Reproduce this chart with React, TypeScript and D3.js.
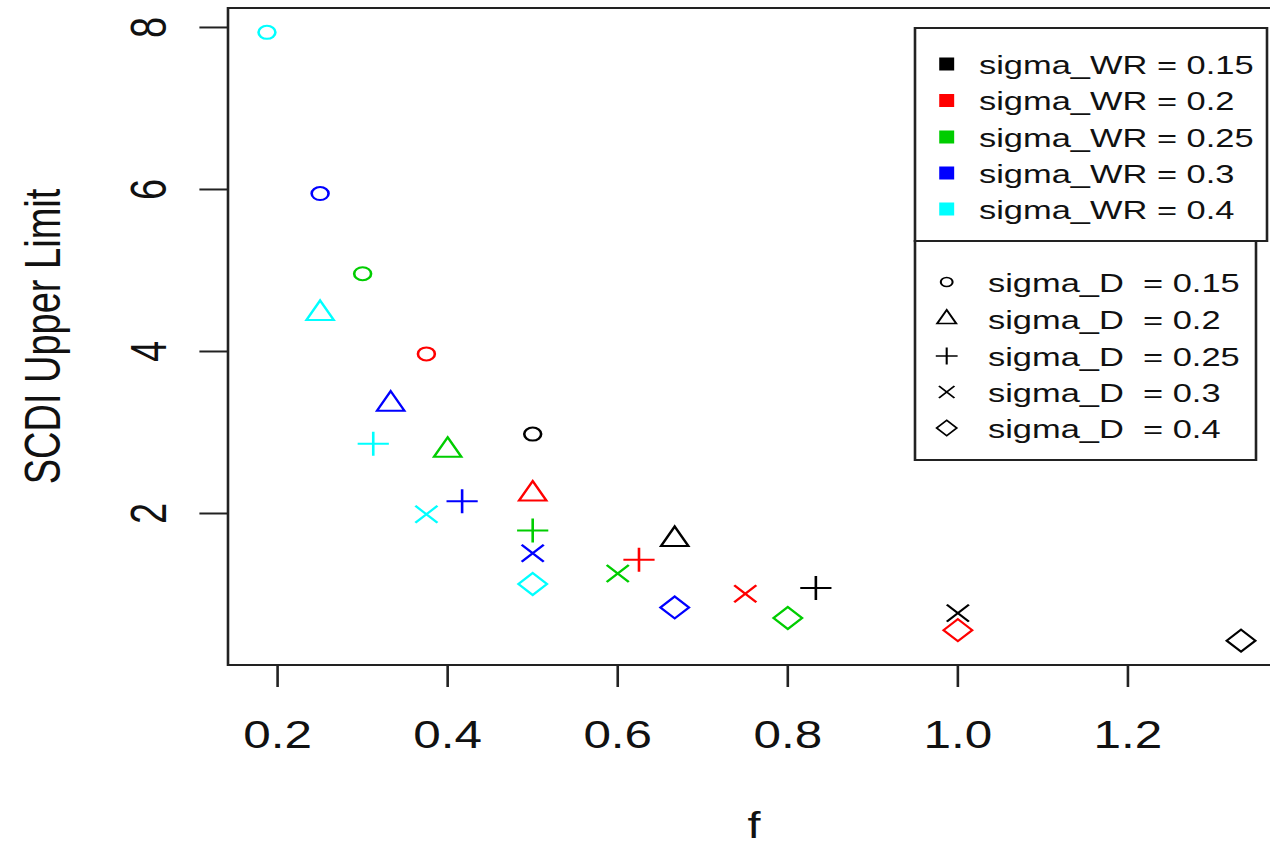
import React from "react";
import * as d3 from "d3";

// ---- data ----
const sigmaWR = [0.15, 0.2, 0.25, 0.3, 0.4];
const sigmaD = [0.15, 0.2, 0.25, 0.3, 0.4];
const seriesColors = ["#000000", "#FF0000", "#00CD00", "#0000FF", "#00FFFF"];
const shapeNames = ["circle", "triangle", "plus", "cross", "diamond"];

// f values for each sigma_WR row (columns follow sigmaD)
const fBlack = [0.5, 0.667, 0.833, 1.0, 1.333];
const fRed = [0.375, 0.5, 0.625, 0.75, 1.0];
const fGreen = [0.3, 0.4, 0.5, 0.6, 0.8];
const fBlue = [0.25, 0.333, 0.417, 0.5, 0.667];
const fCyan = [0.1875, 0.25, 0.3125, 0.375, 0.5];

// SCDI upper limit for each sigma_WR row
const yBlack = [2.98, 1.68, 1.08, 0.77, 0.43];
const yRed = [3.97, 2.24, 1.43, 1.01, 0.56];
const yGreen = [4.96, 2.78, 1.79, 1.26, 0.71];
const yBlue = [5.95, 3.35, 2.15, 1.51, 0.84];
const yCyan = [7.94, 4.47, 2.86, 1.99, 1.13];

const fRows = [fBlack, fRed, fGreen, fBlue, fCyan];
const yRows = [yBlack, yRed, yGreen, yBlue, yCyan];

const xTickValues = [0.2, 0.4, 0.6, 0.8, 1.0, 1.2];
const yTickValues = [2, 4, 6, 8];

const legendWRLabels = sigmaWR.map((v) => `sigma_WR = ${v}`);
const legendDLabels = sigmaD.map((v) => `sigma_D  = ${v}`);

// ---- layout ----
const W = 1270;
const H = 846;
const SX = 1.3; // the reference image is stretched horizontally
const FONT = "'Liberation Sans', Arial, Helvetica, sans-serif";
const INK = "#222";

type Pt = { f: number; y: number; color: string; shape: string };

const points: Pt[] = [];
fRows.forEach((row, i) =>
  row.forEach((f, j) =>
    points.push({ f, y: yRows[i][j], color: seriesColors[i], shape: shapeNames[j] })
  )
);

function padded(vals: number[]): [number, number] {
  const [a, b] = d3.extent(vals) as [number, number];
  const p = (b - a) * 0.04;
  return [a - p, b + p];
}

const xScale = d3
  .scaleLinear()
  .domain(padded(points.map((p) => p.f)))
  .range([228 / SX, 1280 / SX]);
const yScale = d3
  .scaleLinear()
  .domain(padded(points.map((p) => p.y)))
  .range([665, 8]);

function Marker({ shape, color, k = 1, sw = 2 }: { shape: string; color: string; k?: number; sw?: number }) {
  const common = { fill: "none", stroke: color, strokeWidth: sw };
  if (shape === "circle") return <circle r={6.5 * k} {...common} />;
  if (shape === "triangle") {
    const r = 13 * k;
    const hw = 10.5 * k;
    return <path d={`M0,${-r}L${hw},${r / 2}L${-hw},${r / 2}Z`} {...common} />;
  }
  if (shape === "plus") {
    const h = 12 * k;
    return <path d={`M${-h},0H${h}M0,${-h}V${h}`} {...common} />;
  }
  if (shape === "cross") {
    const h = 8.5 * k;
    return <path d={`M${-h},${-h}L${h},${h}M${-h},${h}L${h},${-h}`} {...common} />;
  }
  const h = 11 * k;
  return <path d={`M0,${-h}L${h},0L0,${h}L${-h},0Z`} {...common} />;
}

export default function App() {
  const [x0, x1] = xScale.range();
  const [yb, yt] = yScale.range();
  const tickLen = 22;

  const leg1 = { x: 915 / SX, y: 28, w: (1267 - 915) / SX, h: 241 - 28 };
  const leg2 = { x: 915 / SX, y: 241, w: (1256 - 915) / SX, h: 460 - 241 };
  const leg1Rows = [64, 100.5, 137, 173, 209];
  const leg2Rows = [282, 319, 356, 392, 428];
  const symX = 946.7 / SX;

  return (
    <div style={{ position: "absolute", left: 0, top: 0, width: W, height: H, overflow: "hidden", background: "#fff" }}>
      <svg width={W} height={H} style={{ display: "block" }}>
        <rect x={0} y={0} width={W} height={H} fill="#fff" />
        <g transform={`scale(${SX},1)`} fontFamily={FONT}>
          {/* plot box */}
          <rect x={x0} y={yt} width={x1 - x0} height={yb - yt} fill="none" stroke={INK} strokeWidth={2} />

          {/* x axis */}
          {xTickValues.map((t) => (
            <g key={"xt" + t} transform={`translate(${xScale(t)},0)`}>
              <line y1={yb} y2={yb + tickLen} stroke={INK} strokeWidth={2} />
              <text y={748} textAnchor="middle" fontSize={38} fill="#111">
                {d3.format(".1f")(t)}
              </text>
            </g>
          ))}

          {/* y axis */}
          {yTickValues.map((t) => (
            <g key={"yt" + t}>
              <line x1={x0 - tickLen} x2={x0} y1={yScale(t)} y2={yScale(t)} stroke={INK} strokeWidth={2} />
              <text
                transform={`translate(${166 / SX},${yScale(t)}) rotate(-90)`}
                textAnchor="middle"
                fontSize={38}
                fill="#111"
              >
                {t}
              </text>
            </g>
          ))}

          {/* axis titles */}
          <text x={(x0 + x1) / 2} y={838} textAnchor="middle" fontSize={36} fill="#111">
            f
          </text>
          <text
            transform={`translate(${60 / SX},${(yb + yt) / 2}) rotate(-90)`}
            textAnchor="middle"
            fontSize={38}
            fill="#111"
          >
            SCDI Upper Limit
          </text>

          {/* points */}
          {points.map((p, i) => (
            <g key={"p" + i} transform={`translate(${xScale(p.f)},${yScale(p.y)})`}>
              <Marker shape={p.shape} color={p.color} />
            </g>
          ))}

          {/* legend 1: sigma_WR colours */}
          <rect x={leg1.x} y={leg1.y} width={leg1.w} height={leg1.h} fill="#fff" stroke={INK} strokeWidth={2} />
          {legendWRLabels.map((lab, i) => (
            <g key={"l1" + i}>
              <rect x={symX - 5.75} y={leg1Rows[i] - 6.5} width={11.5} height={13} fill={seriesColors[i]} />
              <text x={979 / SX} y={leg1Rows[i] + 10} fontSize={26.5} fill="#111" style={{ whiteSpace: "pre" }}>
                {lab}
              </text>
            </g>
          ))}

          {/* legend 2: sigma_D symbols */}
          <rect x={leg2.x} y={leg2.y} width={leg2.w} height={leg2.h} fill="#fff" stroke={INK} strokeWidth={2} />
          {legendDLabels.map((lab, i) => (
            <g key={"l2" + i}>
              <g transform={`translate(${symX},${leg2Rows[i]})`}>
                <Marker shape={shapeNames[i]} color="#000" k={0.7} sw={1.6} />
              </g>
              <text x={988 / SX} y={leg2Rows[i] + 10} fontSize={26.5} fill="#111" style={{ whiteSpace: "pre" }}>
                {lab}
              </text>
            </g>
          ))}
        </g>
      </svg>
    </div>
  );
}
